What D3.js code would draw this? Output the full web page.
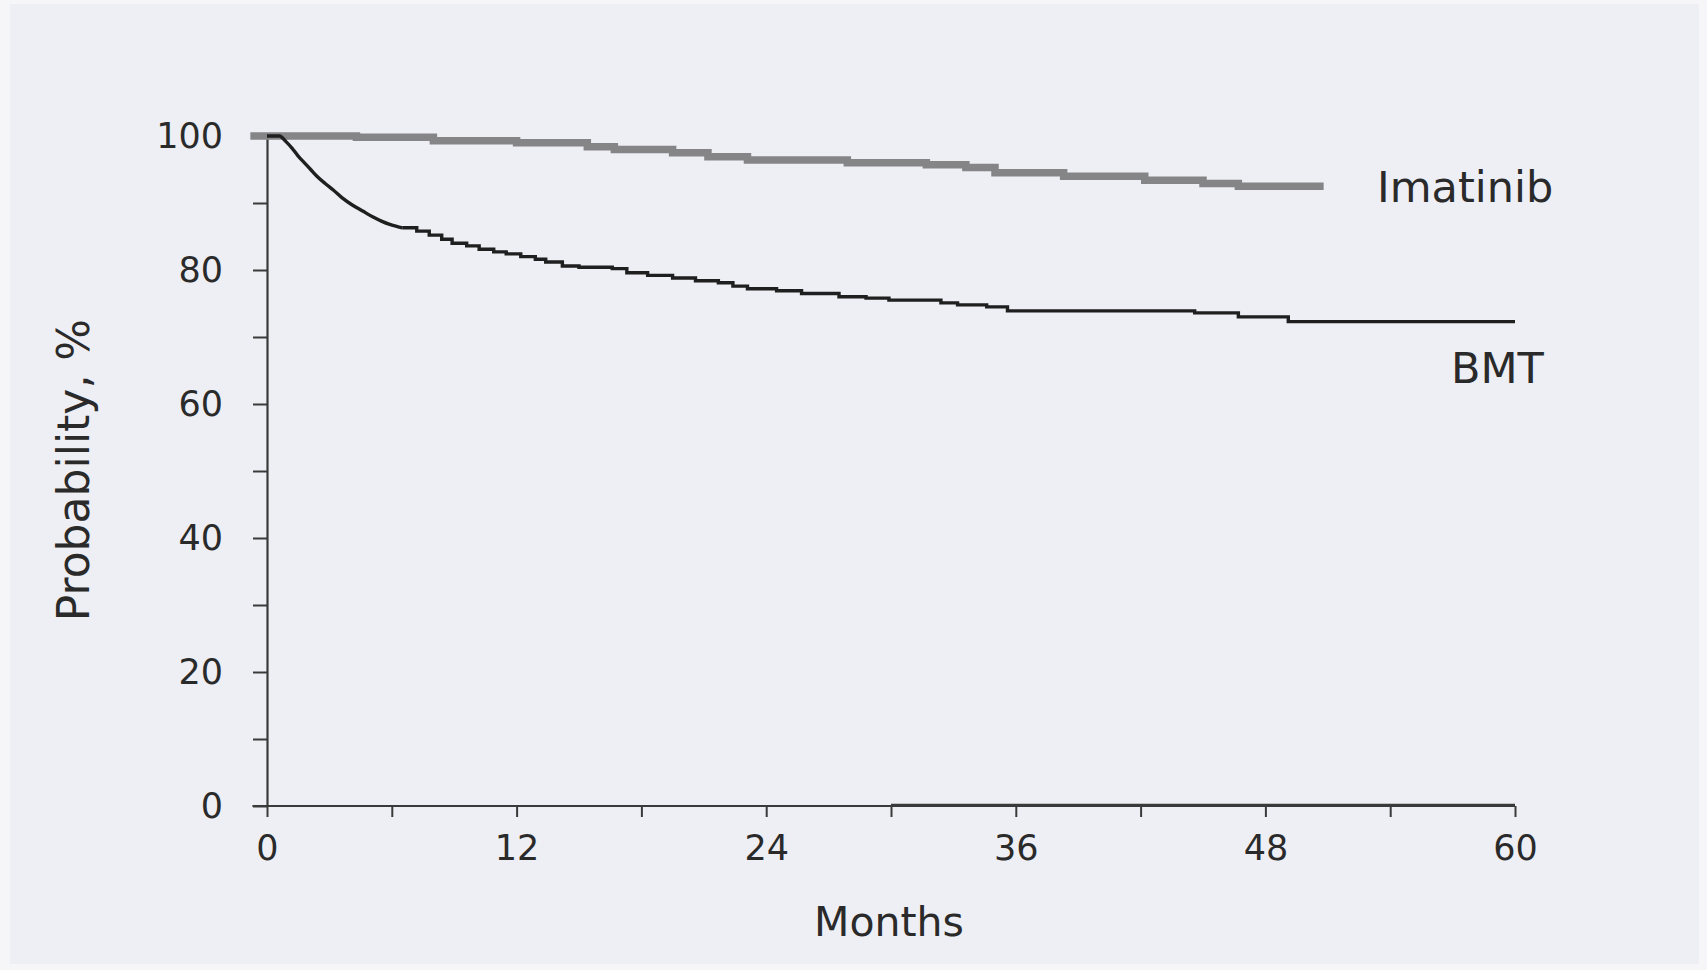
<!DOCTYPE html>
<html>
<head>
<meta charset="utf-8">
<script src="https://cdn.jsdelivr.net/npm/d3@7/dist/d3.min.js"></script>
<style>
  html, body { margin: 0; padding: 0; background: #f6f6f9; }
  svg { display: block; }
</style>
</head>
<body>
<svg id="chart" width="1707" height="970"></svg>
<script>
// ---- Data ----
const xMajorTicks = [0, 12, 24, 36, 48, 60];
const xMinorTicks = [6, 18, 30, 42, 54];
const yMajorTicks = [0, 20, 40, 60, 80, 100];
const yMinorTicks = [10, 30, 50, 70, 90];

const bmtMonths = [0, 0.6, 0.9, 1.2, 1.5, 1.8, 2.1, 2.4, 2.8, 3.2, 3.6, 4.1, 4.6, 5.1, 5.5, 5.9, 6.5, 7.2, 7.8, 8.4, 8.9, 9.6, 10.2, 10.9, 11.5, 12.2, 12.9, 13.4, 14.2, 15.0, 16.6, 17.3, 18.3, 19.5, 20.6, 21.7, 22.4, 23.1, 24.5, 25.7, 27.5, 28.8, 29.9, 32.4, 33.2, 34.6, 35.6, 44.6, 46.7, 49.1, 60];
const bmtValues = [100, 100, 99.2, 98.2, 97.0, 96.0, 95.0, 94.0, 92.9, 91.9, 90.8, 89.7, 88.8, 87.9, 87.3, 86.8, 86.3, 85.8, 85.2, 84.6, 84.0, 83.6, 83.1, 82.7, 82.4, 82.0, 81.6, 81.2, 80.6, 80.4, 80.2, 79.6, 79.2, 78.8, 78.4, 78.1, 77.6, 77.2, 76.9, 76.5, 76.0, 75.8, 75.5, 75.1, 74.8, 74.5, 73.9, 73.6, 73.0, 72.3, 72.3];
const bmtSmoothUntil = 6.5; // early part is so dense that it reads as a smooth curve

const imaMonths = [-0.8, 4.3, 8.0, 12.0, 15.4, 16.7, 19.5, 21.2, 23.1, 27.9, 31.7, 33.6, 35.0, 38.3, 42.2, 45.0, 46.7, 50.8];
const imaValues = [100, 99.8, 99.3, 99.0, 98.4, 98.0, 97.5, 96.9, 96.4, 96.0, 95.7, 95.3, 94.5, 94.0, 93.4, 92.9, 92.5, 92.5];

const seriesNames = ["Imatinib", "BMT"];
const xTitle = "Months";
const yTitle = "Probability, %";

// ---- Layout ----
const svg = d3.select("#chart");
const W = 1707, H = 970;
svg.append("rect").attr("x", 10).attr("y", 4).attr("width", W - 18).attr("height", H - 10)
  .attr("fill", "#eeeff4");

const x = d3.scaleLinear().domain([0, 60]).range([267, 1515]);
const y = d3.scaleLinear().domain([0, 100]).range([806, 136]);

const axisColor = "#3a3a3a";
const textColor = "#2a2a2a";
const font = "'DejaVu Sans', Verdana, sans-serif";
const tickFont = 35;

// Y axis
const gy = svg.append("g").attr("transform", `translate(${x(0)},0)`);
gy.call(d3.axisLeft(y).tickValues(yMajorTicks).tickSize(14).tickSizeOuter(0).tickPadding(30));
gy.append("g").call(d3.axisLeft(y).tickValues(yMinorTicks).tickSize(14).tickSizeOuter(0).tickFormat(""))
  .select(".domain").remove();
gy.selectAll("path.domain").attr("stroke", axisColor).attr("stroke-width", 2.2);
gy.selectAll(".tick line").attr("stroke", axisColor).attr("stroke-width", 2);
gy.selectAll(".tick text").attr("font-family", font).attr("font-size", tickFont).attr("fill", textColor);

// X axis
const gx = svg.append("g").attr("transform", `translate(0,${y(0)})`);
gx.call(d3.axisBottom(x).tickValues(xMajorTicks).tickSize(11).tickSizeOuter(0).tickPadding(18));
gx.append("g").call(d3.axisBottom(x).tickValues(xMinorTicks).tickSize(11).tickSizeOuter(0).tickFormat(""))
  .select(".domain").remove();
gx.select("path.domain").remove();
gx.append("line").attr("x1", x(-0.7)).attr("x2", x(60)).attr("y1", 0).attr("y2", 0)
  .attr("stroke", axisColor).attr("stroke-width", 2.2);
gx.append("line").attr("x1", x(30)).attr("x2", x(60)).attr("y1", -1.5).attr("y2", -1.5)
  .attr("stroke", axisColor).attr("stroke-width", 1.6);
gx.selectAll(".tick line").attr("stroke", axisColor).attr("stroke-width", 2);
gx.selectAll(".tick text").attr("font-family", font).attr("font-size", tickFont).attr("fill", textColor);

// Curves
const stepLine = d3.line().x(d => x(d[0])).y(d => y(d[1])).curve(d3.curveStepAfter);
const smoothLine = d3.line().x(d => x(d[0])).y(d => y(d[1])).curve(d3.curveMonotoneX);
const imaData = imaMonths.map((m, i) => [m, imaValues[i]]);
const bmtData = bmtMonths.map((m, i) => [m, bmtValues[i]]);
const bmtEarly = bmtData.filter(d => d[0] <= bmtSmoothUntil);
const bmtLate = bmtData.filter(d => d[0] >= bmtSmoothUntil);

svg.append("path").datum(imaData).attr("d", stepLine)
  .attr("fill", "none").attr("stroke", "#858587").attr("stroke-width", 7.5);
svg.append("path").datum(bmtEarly).attr("d", smoothLine)
  .attr("fill", "none").attr("stroke", "#1f1f1f").attr("stroke-width", 3.4).attr("stroke-linejoin", "round");
svg.append("path").datum(bmtLate).attr("d", stepLine)
  .attr("fill", "none").attr("stroke", "#1f1f1f").attr("stroke-width", 3.4);

// Series labels
svg.append("text").attr("x", 1377).attr("y", 202).text(seriesNames[0])
  .attr("font-family", font).attr("font-size", 43).attr("fill", textColor);
svg.append("text").attr("x", 1451).attr("y", 383).text(seriesNames[1])
  .attr("font-family", font).attr("font-size", 43).attr("fill", textColor);

// Axis titles
svg.append("text").attr("x", 889).attr("y", 936).attr("text-anchor", "middle").text(xTitle)
  .attr("font-family", font).attr("font-size", 41).attr("fill", textColor);
svg.append("text").attr("transform", "translate(89,470) rotate(-90)").attr("text-anchor", "middle").text(yTitle)
  .attr("font-family", font).attr("font-size", 44).attr("fill", textColor);
</script>
</body>
</html>
